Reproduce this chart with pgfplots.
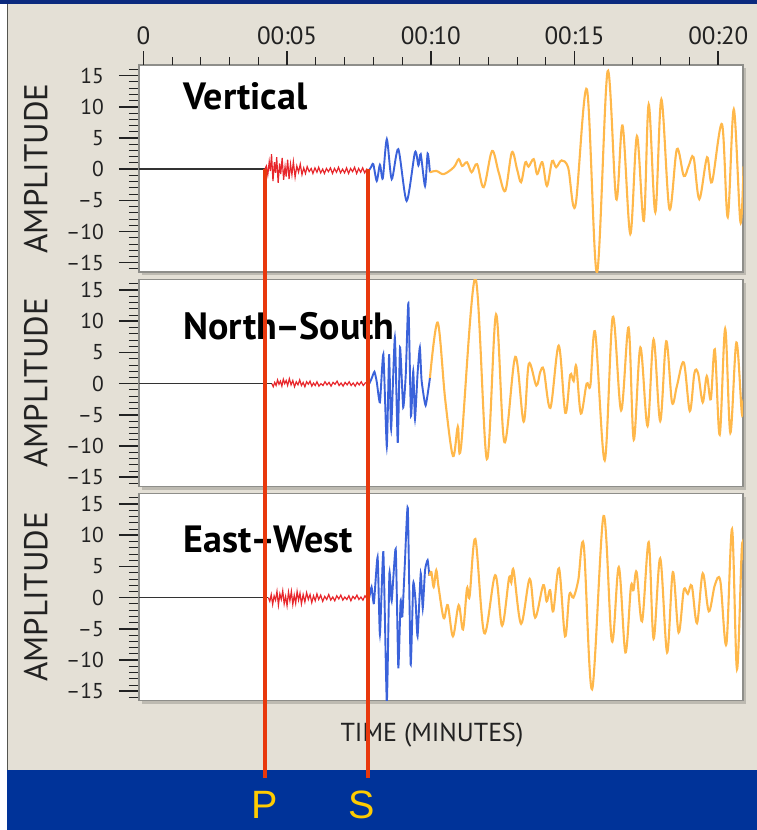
\documentclass[border=0pt]{standalone}
\usepackage{pgfplots}
\pgfplotsset{compat=1.18}
\usepackage{fontspec}
\setmainfont{PT Sans}
\newfontfamily\psfont{Liberation Sans}

\definecolor{frameblue}{HTML}{003399}
\definecolor{topblue}{HTML}{0B2A7E}
\definecolor{panelbeige}{HTML}{E4E0D6}
\definecolor{paneledge}{HTML}{55554F}
\definecolor{boxgray}{HTML}{8E8E8A}
\definecolor{boxshadow}{HTML}{BDBAB1}
\definecolor{pwave}{HTML}{E8262B}
\definecolor{swave}{HTML}{3A62DA}
\definecolor{lwave}{HTML}{FFB84A}
\definecolor{marker}{HTML}{E8380D}
\definecolor{letter}{HTML}{FFCC00}
\definecolor{ink}{HTML}{222222}

\tikzset{comp/.style={font=\bfseries\fontsize{38}{38}\selectfont, anchor=base west, text=black}}

\pgfplotsset{
  seis/.style={
    scale only axis, width=604pt, height=207pt,
    anchor=north west,
    xmin=-0.15, xmax=20.86, ymin=-16.5, ymax=16.7,
    axis background/.style={fill=white},
    axis line style={draw=boxgray, line width=1.5pt},
    xtick=\empty,
    ytick={-15,-10,-5,0,5,10,15},
    yticklabels={–15,–10,–5,0,5,10,15},
    minor ytick={-16,...,16},
    ytick pos=left, tick align=outside,
    major tick length=20pt, minor tick length=10pt,
    every major tick/.append style={ink, line width=1.6pt},
    every minor tick/.append style={ink, line width=0.8pt},
    yticklabel style={font=\fontsize{21.5}{21.5}\selectfont, text=ink, inner sep=0pt, xshift=-15pt},
    ylabel={AMPLITUDE},
    ylabel style={font=\fontsize{33}{33}\selectfont, text=ink,
      at={(axis description cs:-0.171,0.5)}, anchor=center},
    clip mode=individual,
  },
  base/.style={black!80, line width=1.3pt},
  pw/.style={pwave, line width=1.2pt},
  sw/.style={swave, line width=1.9pt, smooth, tension=0.45},
  lw/.style={lwave, line width=2.1pt, smooth, tension=0.55},
}

\begin{document}
\begin{tikzpicture}
\useasboundingbox (0pt,0pt) rectangle (757pt,-830pt);
\fill[white] (0pt,0pt) rectangle (757pt,-830pt);
\fill[topblue] (0pt,0pt) rectangle (757pt,-4pt);
\fill[panelbeige] (7pt,-4pt) rectangle (757pt,-770pt);
\draw[paneledge, line width=1.8pt] (7.5pt,-4pt) -- (7.5pt,-770pt);
\fill[frameblue] (7pt,-770pt) rectangle (757pt,-830pt);

% drop shadows behind the three trace boxes
\fill[boxshadow] (142pt,-68pt) rectangle (746pt,-275pt);
\fill[boxshadow] (142pt,-282.5pt) rectangle (746pt,-489.5pt);
\fill[boxshadow] (142pt,-496.5pt) rectangle (746pt,-703.5pt);

% ---------- Vertical ----------
\begin{axis}[seis, at={(139pt,-65pt)}]
\addplot[base] coordinates {(-0.15,0)(4.23,0)};
\addplot[pw] coordinates {
(4.23,0)(4.28,0.5)(4.33,-0.9)(4.38,1.2)(4.42,-0.3)(4.46,2.4)(4.51,-1.9)(4.56,1.1)
(4.60,-0.6)(4.64,1.9)(4.69,-2.2)(4.74,0.9)(4.78,-0.8)(4.83,1.8)(4.88,-1.7)(4.93,0.4)
(4.97,-1.2)(5.02,1.5)(5.07,-1.6)(5.12,0.8)(5.17,-0.9)(5.22,1.2)(5.28,-1.3)(5.34,0.5)
(5.40,-0.5)(5.46,0.8)(5.52,-0.9)(5.58,0.2)(5.64,-0.7)(5.70,0.4)(5.77,-0.4)(5.84,0.1)
(5.90,-0.7)(5.97,0.2)(6.04,-0.5)(6.10,0.3)(6.17,-0.6)(6.24,0.0)(6.30,-0.7)(6.37,0.1)
(6.44,-0.4)(6.51,0.2)(6.58,-0.7)(6.65,0.1)(6.72,-0.5)(6.79,0.3)(6.86,-0.6)(6.93,0.0)
(7.00,-0.6)(7.07,0.2)(7.14,-0.7)(7.21,0.1)(7.28,-0.4)(7.35,0.3)(7.42,-0.7)(7.49,0.1)
(7.56,-0.5)(7.63,0.2)(7.70,-0.6)(7.77,0.0)(7.85,-0.2)};
\addplot[sw] coordinates {
(7.85,-0.2)(7.92,0.3)(8.00,0.8)(8.12,-1.9)(8.23,0.7)(8.33,-1.5)(8.47,4.8)(8.64,-1.6)
(8.87,3.2)(9.16,-5.1)(9.45,2.7)(9.57,0.6)(9.65,2.4)(9.80,-2.7)(9.89,2.5)(9.97,-0.5)};
\addplot[lw] coordinates {
(9.97,-0.5)(10.20,-0.3)(10.45,-0.8)(10.80,0.3)(10.97,1.6)(11.09,0.5)(11.26,1.1)
(11.42,-0.5)(11.61,0.8)(11.84,-2.9)(12.13,2.9)(12.36,-0.5)(12.59,-3.5)(12.82,2.7)
(13.00,0.0)(13.14,-2.1)(13.29,1.1)(13.40,0.4)(13.58,1.6)(13.70,-0.8)(13.88,1.1)
(14.04,-2.7)(14.22,1.3)(14.36,0.3)(14.55,1.4)(14.78,0.2)(15.03,-5.9)(15.43,12.8)
(15.78,-16.6)(16.15,15.7)(16.45,-4.8)(16.67,7.0)(16.94,-10.4)(17.17,5.3)(17.41,-8.3)
(17.58,10.4)(17.81,-6.9)(18.02,11.2)(18.30,-6.4)(18.56,3.2)(18.80,-1.1)(18.97,0.5)
(19.14,1.9)(19.34,-4.8)(19.61,1.9)(19.78,-2.1)(20.13,7.2)(20.33,-7.7)(20.54,9.6)
(20.77,-8.5)(20.88,0.5)};
\node[comp] at (axis description cs:0.068,0.786) {Vertical};
\coordinate (Ptop) at (axis cs:4.22,0);
\coordinate (Stop) at (axis cs:7.83,0);
\end{axis}

% time ruler along the top of the first box
\begin{axis}[
  scale only axis, width=604pt, height=207pt, at={(139pt,-65pt)}, anchor=north west,
  xmin=-0.15, xmax=20.86, ymin=0, ymax=1,
  axis line style={draw=none}, ytick=\empty,
  xtick={0,5,10,15,20}, xticklabels={0,00:05,00:10,00:15,00:20},
  minor xtick={0,...,20},
  xtick pos=right, xticklabel pos=right, tick align=outside,
  major tick length=14pt, minor tick length=8pt,
  every major tick/.append style={ink, line width=1.6pt},
  every minor tick/.append style={ink, line width=0.9pt},
  xticklabel style={font=\fontsize{25}{25}\selectfont, text=ink, inner sep=0pt, yshift=6pt},
]
\addplot[draw=none] coordinates {(0,0)};
\end{axis}

% ---------- North-South ----------
\begin{axis}[seis, at={(139pt,-279.5pt)}]
\addplot[base] coordinates {(-0.15,0)(4.47,0)};
\addplot[pw] coordinates {
(4.47,0)(4.52,-0.5)(4.57,0.2)(4.62,-0.3)(4.67,0.6)(4.72,-0.1)(4.77,0.4)(4.82,-0.4)
(4.87,0.7)(4.92,0.0)(4.97,0.5)(5.02,-0.3)(5.08,0.8)(5.14,-0.2)(5.20,0.5)(5.26,-0.5)
(5.32,0.3)(5.38,-0.2)(5.44,0.6)(5.50,-0.3)(5.56,0.2)(5.62,-0.5)(5.68,0.3)(5.74,-0.1)
(5.80,0.4)(5.86,-0.4)(5.92,0.1)(5.98,-0.3)(6.04,0.3)(6.11,-0.4)(6.18,0.0)(6.25,-0.3)
(6.32,0.3)(6.39,-0.2)(6.46,0.2)(6.53,-0.4)(6.60,0.2)(6.67,-0.1)(6.74,0.4)(6.81,-0.3)
(6.88,0.1)(6.95,-0.4)(7.02,0.2)(7.09,-0.2)(7.16,0.3)(7.23,-0.3)(7.30,0.1)(7.37,-0.4)
(7.44,0.2)(7.51,-0.2)(7.58,0.3)(7.65,-0.3)(7.72,0.1)(7.79,0.3)(7.86,0)};
\addplot[sw, tension=0.3] coordinates {
(7.86,0)(7.94,0.8)(8.04,1.9)(8.12,0.3)(8.23,-3.0)(8.35,4.7)(8.47,-10.1)(8.55,4.7)
(8.62,-7.3)(8.75,7.4)(8.85,-9.5)(8.93,5.8)(9.04,-3.8)(9.13,1.5)(9.22,12.9)(9.31,-5.2)
(9.39,2.0)(9.45,-5.7)(9.54,1.6)(9.62,5.8)(9.68,0.5)(9.82,-3.5)(9.97,0.9)};
\addplot[lw] coordinates {
(9.97,0.9)(10.24,9.8)(10.50,-2.5)(10.77,-11.6)(10.94,-6.9)(11.05,-10.2)(11.55,16.9)
(11.95,-12.1)(12.27,11.1)(12.56,-9.4)(12.94,4.3)(13.23,-6.1)(13.41,3.2)(13.67,-0.3)
(13.81,1.9)(13.93,2.2)(14.16,-3.9)(14.45,6.1)(14.68,-4.7)(14.85,1.4)(14.97,0.4)
(15.06,2.8)(15.22,-4.8)(15.42,0.0)(15.55,-0.3)(15.72,8.2)(16.05,-12.3)(16.33,10.7)
(16.62,-4.3)(16.88,9.0)(17.06,-9.0)(17.29,5.8)(17.54,-6.8)(17.75,7.1)(17.98,-6.0)
(18.19,6.8)(18.39,-3.0)(18.56,-0.4)(18.80,3.4)(19.01,-4.4)(19.17,1.7)(19.30,1.6)
(19.46,-3.0)(19.60,1.2)(19.74,-2.5)(19.88,5.5)(20.05,-8.2)(20.24,8.8)(20.42,-7.9)
(20.63,6.6)(20.82,-4.8)(20.88,-2.5)};
\node[comp] at (axis description cs:0.068,0.709) {North\kern-1.5pt–\kern-1.5ptSouth};
\end{axis}

% ---------- East-West ----------
\begin{axis}[seis, at={(139pt,-493.5pt)},
  xlabel={TIME (MINUTES)},
  xlabel style={font=\fontsize{26}{26}\selectfont, text=ink,
    at={(axis description cs:0.485,-0.2)}, anchor=base},
]
\addplot[base] coordinates {(-0.15,0)(4.35,0)};
\addplot[pw] coordinates {
(4.35,0)(4.40,-0.6)(4.45,0.5)(4.50,-1.1)(4.55,0.3)(4.60,-0.4)(4.65,1.0)(4.70,-1.2)
(4.75,0.6)(4.80,-0.3)(4.85,1.1)(4.90,-1.0)(4.95,0.2)(5.00,-1.3)(5.05,0.9)(5.10,-0.5)
(5.15,1.0)(5.20,-1.1)(5.25,0.4)(5.30,-0.9)(5.35,1.0)(5.40,-0.4)(5.45,0.7)(5.50,-1.0)
(5.56,0.5)(5.62,-0.7)(5.68,0.8)(5.74,-0.3)(5.80,0.5)(5.86,-0.8)(5.92,0.3)(5.98,-0.5)
(6.04,0.6)(6.10,-0.3)(6.17,0.4)(6.24,-0.6)(6.31,0.2)(6.38,-0.3)(6.45,0.5)(6.52,-0.4)
(6.59,0.1)(6.66,-0.5)(6.73,0.3)(6.80,-0.2)(6.87,0.4)(6.94,-0.4)(7.01,0.1)(7.08,-0.3)
(7.15,0.3)(7.22,-0.5)(7.29,0.2)(7.36,-0.2)(7.43,0.4)(7.50,-0.3)(7.57,0.1)(7.64,-0.4)
(7.71,0.3)(7.78,-0.2)(7.86,0)};
\addplot[sw, tension=0.3] coordinates {
(7.86,0)(7.94,1.7)(8.02,-0.9)(8.15,6.5)(8.23,-5.9)(8.35,7.3)(8.47,-16.8)(8.56,3.9)
(8.64,-0.5)(8.78,7.8)(8.87,-11.2)(8.95,-0.5)(9.01,-3.0)(9.10,5.7)(9.20,14.4)(9.30,-10.7)
(9.39,2.3)(9.47,-0.5)(9.54,-6.2)(9.65,3.9)(9.72,-1.7)(9.80,4.4)(9.89,6.0)(9.95,3.5)};
\addplot[lw] coordinates {
(9.95,3.5)(10.02,4.1)(10.10,1.7)(10.19,4.4)(10.27,1.7)(10.45,-3.3)(10.59,-1.2)
(10.77,-6.2)(10.97,-1.2)(11.12,-5.1)(11.26,1.5)(11.35,0.2)(11.55,9.4)(11.86,-5.7)
(12.24,3.6)(12.48,-4.5)(12.72,3.1)(12.80,2.4)(12.88,4.4)(13.14,-4.2)(13.44,3.0)
(13.63,-3.2)(13.91,2.0)(14.03,-0.6)(14.15,1.2)(14.26,-2.2)(14.46,4.7)(14.67,-6.2)
(14.82,0.5)(14.96,0.0)(15.13,2.8)(15.32,8.4)(15.61,-14.7)(16.01,13.1)(16.30,-7.0)
(16.54,4.9)(16.77,-8.8)(16.96,1.7)(17.05,1.2)(17.16,4.1)(17.35,-3.8)(17.58,8.9)
(17.75,-6.6)(17.98,6.3)(18.22,-8.8)(18.42,4.1)(18.62,-5.6)(18.80,1.2)(18.94,0.6)
(19.08,1.9)(19.26,-4.1)(19.46,3.9)(19.67,-2.2)(19.88,2.0)(20.07,2.7)(20.28,-7.5)
(20.48,11.0)(20.65,-11.5)(20.82,8.1)(20.88,6.0)};
\node[comp] at (axis description cs:0.068,0.716) {East\kern-1.5pt–\kern-1.5ptWest};
\end{axis}

% arrival markers running down into the footer
\draw[marker, line width=4pt] (Ptop) -- ++(0pt,-609pt);
\draw[marker, line width=4pt] (Stop) -- ++(0pt,-609pt);
\node[anchor=base, text=letter, font=\psfont\fontsize{39.5}{39.5}\selectfont] at (265pt,-818pt) {P};
\node[anchor=base, text=letter, font=\psfont\fontsize{39.5}{39.5}\selectfont] at (362pt,-818pt) {S};
\end{tikzpicture}
\end{document}
